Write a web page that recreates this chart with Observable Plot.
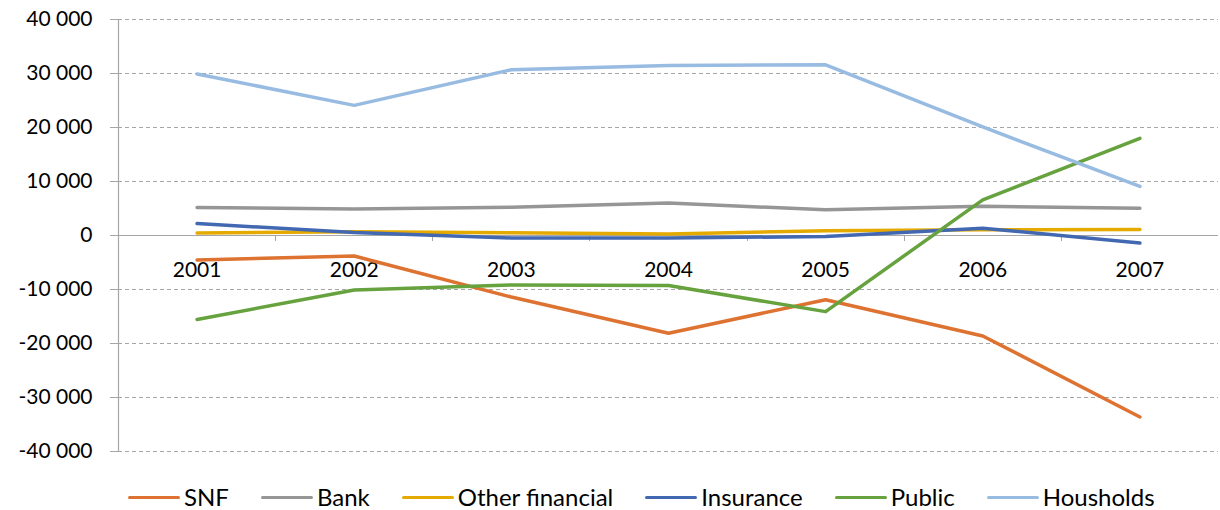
<!DOCTYPE html>
<html>
<head>
<meta charset="utf-8">
<script src="https://cdn.jsdelivr.net/npm/d3@7"></script>
<script src="https://cdn.jsdelivr.net/npm/@observablehq/plot@0.6"></script>
<style>
  html, body { margin: 0; padding: 0; background: #fff; }
  #chart { width: 1220px; height: 510px; font-family: Lato, "Noto Sans", sans-serif; }
  .legend { display: flex; align-items: center; margin-left: 128px; padding-top: 13px; font-size: 24px; line-height: 28px; color: #000; }
  .item { display: flex; align-items: center; margin-right: 32px; }
  .sw { width: 52px; height: 0; border-top: 3.5px solid; border-radius: 2px; margin-right: 4px; }
</style>
</head>
<body>
<div id="chart"></div>
<script>
const years = [2001, 2002, 2003, 2004, 2005, 2006, 2007];
const snf        = [-4550, -3800, -11400, -18100, -11900, -18600, -33600];
const bank       = [5200, 4900, 5250, 6000, 4750, 5400, 5050];
const otherFin   = [450, 700, 500, 300, 900, 1050, 1100];
const insurance  = [2200, 550, -450, -450, -200, 1350, -1400];
const publicSec  = [-15550, -10100, -9150, -9250, -14100, 6600, 18000];
const households = [29900, 24100, 30700, 31500, 31600, 20100, 9100];

const seriesNames = ["SNF", "Bank", "Other financial", "Insurance", "Public", "Housholds"];
const seriesValues = [snf, bank, otherFin, insurance, publicSec, households];
const seriesColors = ["#DD7231", "#969696", "#E5AA00", "#4268B2", "#66A23E", "#98BBE2"];
const yTicks = [-40000, -30000, -20000, -10000, 0, 10000, 20000, 30000, 40000];

const rows = [];
seriesNames.forEach((name, s) => {
  years.forEach((yr, i) => rows.push({series: name, year: yr, value: seriesValues[s][i]}));
});
const bounds = years.slice(0, -1).map(y => y + 0.5);
const fmtLocale = d3.formatLocale({decimal: ",", thousands: " ", grouping: [3], currency: ["", ""], minus: "-"});
const fmt = fmtLocale.format(",");
const gray = "#A6A6A6";

const xTicksMark = (index, scales) => {
  const g = document.createElementNS("http://www.w3.org/2000/svg", "g");
  const y0 = scales.y(0);
  for (const b of bounds) {
    const l = document.createElementNS("http://www.w3.org/2000/svg", "line");
    const x = Math.round(scales.x(b)) + 0.5;
    l.setAttribute("x1", x); l.setAttribute("x2", x);
    l.setAttribute("y1", y0); l.setAttribute("y2", y0 + 6);
    l.setAttribute("stroke", gray);
    g.appendChild(l);
  }
  return g;
};

const plot = Plot.plot({
  width: 1220,
  height: 470,
  marginLeft: 118,
  marginRight: 2,
  marginTop: 19,
  marginBottom: 19,
  style: {fontFamily: "Lato, 'Noto Sans', sans-serif", fontSize: "21px", color: "#000", background: "#fff", overflow: "visible"},
  x: {type: "linear", domain: [2000.5, 2007.5], axis: null},
  y: {domain: [-40000, 40000], axis: null, label: null},
  color: {domain: seriesNames, range: seriesColors},
  marks: [
    Plot.ruleY(yTicks.filter(d => d !== 0), {stroke: gray, strokeDasharray: "4,3", strokeWidth: 1}),
    Plot.ruleY([0], {stroke: gray, strokeWidth: 1.2}),
    Plot.ruleX([2000.5], {y1: -40000, y2: 40000, stroke: gray, strokeWidth: 1.2}),
    Plot.axisY({ticks: yTicks, label: null, tickSize: 8, tickPadding: 18, tickFormat: d => fmt(d), stroke: gray, fill: "#000", fontSize: 21}),
    xTicksMark,
    Plot.text(years, {x: d => d, y: 0, dy: 35, text: d => String(d), fill: "#000", fontSize: 21}),
    Plot.line(rows, {x: "year", y: "value", z: "series", stroke: "series", strokeWidth: 3.5, strokeLinecap: "round", strokeLinejoin: "round"})
  ]
});

const chart = document.getElementById("chart");
chart.appendChild(plot);

const legend = document.createElement("div");
legend.className = "legend";
seriesNames.forEach((name, i) => {
  const it = document.createElement("div");
  it.className = "item";
  const sw = document.createElement("span");
  sw.className = "sw";
  sw.style.borderTopColor = seriesColors[i];
  const tx = document.createElement("span");
  tx.textContent = name;
  it.appendChild(sw); it.appendChild(tx);
  legend.appendChild(it);
});
chart.appendChild(legend);
</script>
</body>
</html>
